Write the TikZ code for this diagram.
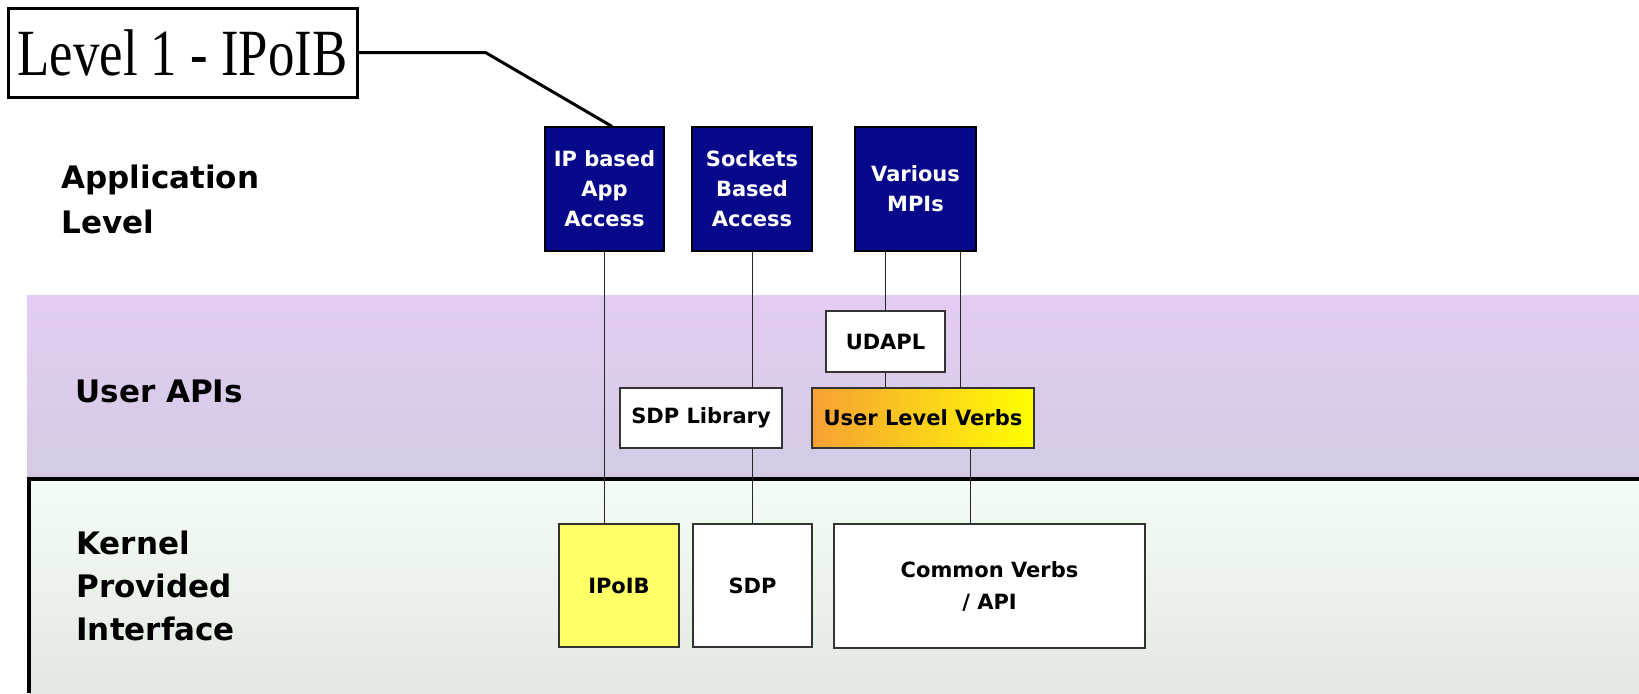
\documentclass[tikz,border=0pt]{standalone}
\usepackage{fontspec}
\setmainfont{DejaVu Sans}
\newfontfamily\timesfont{Liberation Serif}
\definecolor{appblue}{RGB}{8,8,138}
\definecolor{apitop}{RGB}{227,204,243}
\definecolor{apibot}{RGB}{212,203,226}
\definecolor{kertop}{RGB}{244,253,244}
\definecolor{kerbot}{RGB}{225,232,225}
\definecolor{verbsleft}{RGB}{247,160,52}
\definecolor{ipoibyellow}{RGB}{255,255,102}
\begin{document}
\begin{tikzpicture}[x=0.5pt,y=-0.5pt,
	box/.style={draw=black!80,line width=0.6pt,inner sep=0pt,align=center,
		font=\fontsize{10.5}{15}\selectfont\bfseries},
	appbox/.style={box,draw=black,fill=appblue,text=white,minimum height=62pt},
	layer/.style={anchor=base west,align=left,inner sep=0pt,
		font=\fontsize{15.5}{22.5}\selectfont\bfseries},
	link/.style={draw=black!85,line width=0.5pt}]
	\useasboundingbox (0,0) rectangle (1639,693);
	% Draw layer bands
	\shade[top color=apitop,bottom color=apibot] (27,295) rectangle (1639,478);
	\shade[top color=kertop,bottom color=kerbot] (29,479) rectangle (1639,693);
	\draw[line width=2pt] (29,693) -- (29,479) -- (1639,479);
	% Layer names
	\node[layer] (applvl) at (61,233) {Application\\Level};
	\node[layer] (userapi) at (75,402) {User APIs};
	\node[layer,font=\fontsize{15.5}{21.5}\selectfont\bfseries] (kernel) at (76,640) {Kernel\\Provided\\Interface};
	% Application boxes
	\node[appbox,minimum width=59.5pt] (ipapp) at (604.5,189) {IP based\\App\\Access};
	\node[appbox,minimum width=60pt] (sockapp) at (752,189) {Sockets\\Based\\Access};
	\node[appbox,minimum width=60.5pt] (mpiapp) at (915.5,189) {Various\\MPIs};
	% User API boxes
	\node[box,fill=white,minimum width=59.5pt,minimum height=30.5pt] (udapl) at (885.5,341.5) {UDAPL};
	\node[box,fill=white,minimum width=81pt,minimum height=30pt] (sdplib) at (701,418) {SDP Library};
	\node[box,left color=verbsleft,right color=yellow,minimum width=111pt,minimum height=30pt] (ulverbs) at (923,418) {User Level Verbs};
	% Kernel boxes
	\node[box,fill=ipoibyellow,minimum width=60pt,minimum height=61.5pt] (ipoib) at (619,585.5) {IPoIB};
	\node[box,fill=white,minimum width=59.5pt,minimum height=61.5pt] (sdp) at (752.5,585.5) {SDP};
	\node[box,fill=white,minimum width=155.5pt,minimum height=62pt,font=\fontsize{10.5}{16}\selectfont\bfseries] (cverbs) at (989.5,586) {Common Verbs\\/ API};
	% Level 1 callout
	\node[draw,line width=1.5pt,inner sep=0pt,minimum width=174.5pt,minimum height=44.5pt,font=\timesfont] (lvl) at (182.5,52.5)
		{\scalebox{0.8}[1]{\fontsize{33}{38}\selectfont Level 1 - IPoIB}};
	\draw[line width=1.5pt] (lvl.east) -- ++(127,0) -- ([xshift=3.75pt]ipapp.north);
	% Connectors
	\draw[link] (ipapp.south) -- (ipapp.south |- ipoib.north);
	\draw[link] (sockapp.south) -- (sockapp.south |- sdplib.north);
	\draw[link] (sdplib.south -| sdp.north) -- (sdp.north);
	\draw[link] (udapl.north |- mpiapp.south) -- (udapl.north);
	\draw[link] (udapl.south) -- (udapl.south |- ulverbs.north);
	\draw[link] ([xshift=22.25pt]mpiapp.south) -- ([xshift=22.25pt]mpiapp.south |- ulverbs.north);
	\draw[link] ([xshift=23.5pt]ulverbs.south) -- ([xshift=23.5pt]ulverbs.south |- cverbs.north);
\end{tikzpicture}
\end{document}
